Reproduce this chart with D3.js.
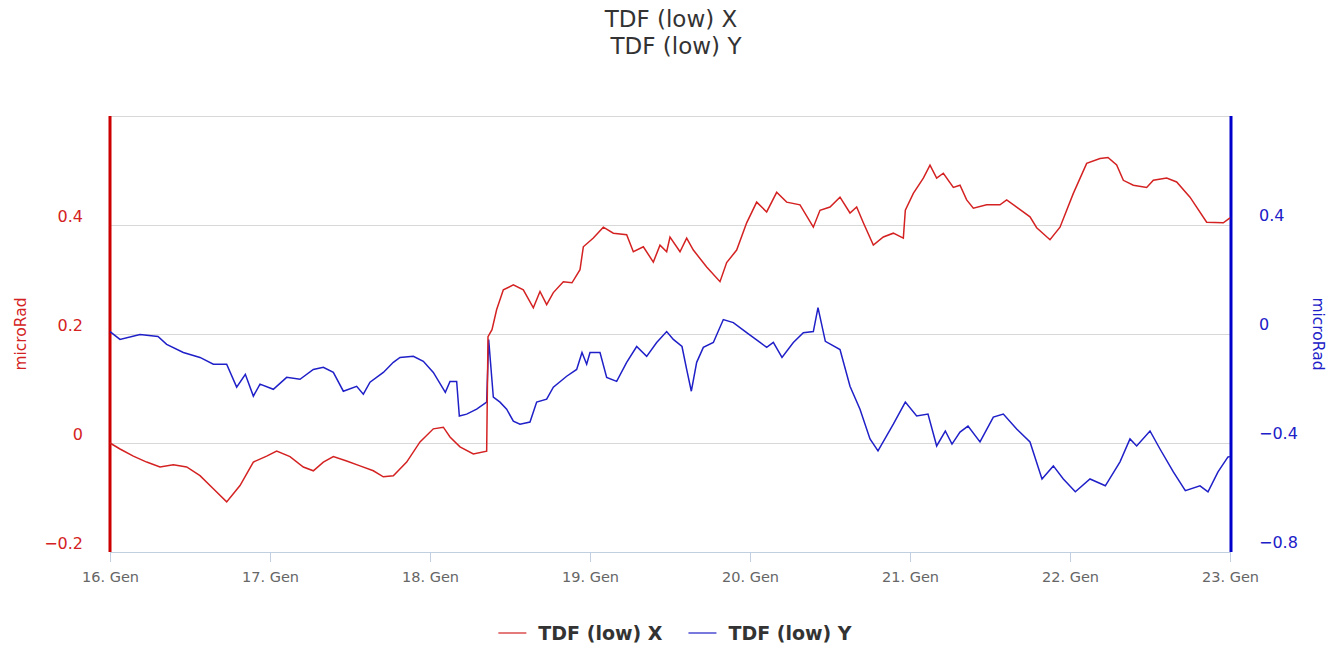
<!doctype html>
<html>
<head>
    <title> TDF (low) </title>
    <script src="https://d3js.org/d3.v7.min.js"></script>
    <style>
        body { margin: 0; background: #fff; }
        text { font-family: "DejaVu Sans", Verdana, sans-serif; }
    </style>
</head>
<body>
<div id="chart"></div>
<script>

// Data (hours from 16 Jan 00:00)

const startDate = new Date(2015, 0, 16);

const hoursX = [0, 1.5, 3.5, 5.5, 7.5, 9.5, 11.5, 13.5, 15.5, 17.5, 19.5, 21.5, 23.5, 25, 27, 29, 30.5, 32, 33.5, 35.5,
    37.5, 39.5, 41, 42.5, 44.5, 46.5, 48.5, 50, 51, 52.5, 54.5, 56.5, 56.7, 57.3, 58, 59, 60.5, 62, 63.5, 64.5,
    65.5, 66.5, 68, 69.3, 70.5, 71, 72.5, 74, 75.5, 77.5, 78.5, 80, 81.5, 82.5, 83.5, 84, 85.5, 86.5, 87.5, 89.5,
    91.5, 92.5, 94, 95.5, 97, 98.5, 100, 101.5, 103.5, 105.5, 106.5, 108, 109.5, 111, 112, 113, 114.5, 116, 117.5, 119,
    119.3, 120.5, 122, 123, 124, 125, 126.5, 127.5, 128.5, 129.5, 131.5, 133.5, 134.5, 136, 138, 139, 141, 142.5, 144.5, 146.5,
    148.5, 149.7, 151, 152, 153.5, 155.5, 156.5, 158.5, 160, 162, 164.5, 167, 168];
const valuesX = [0.0, -0.011, -0.024, -0.035, -0.044, -0.040, -0.044, -0.060, -0.084, -0.108, -0.078, -0.035, -0.024, -0.015, -0.025, -0.044, -0.051, -0.035, -0.025, -0.033,
    -0.042, -0.051, -0.062, -0.060, -0.035, 0.002, 0.026, 0.029, 0.011, -0.007, -0.020, -0.015, 0.195, 0.208, 0.245, 0.281, 0.290, 0.281, 0.248, 0.278,
    0.254, 0.276, 0.296, 0.294, 0.318, 0.360, 0.376, 0.396, 0.385, 0.382, 0.351, 0.360, 0.332, 0.363, 0.351, 0.378, 0.351, 0.376, 0.354, 0.323,
    0.296, 0.331, 0.354, 0.404, 0.442, 0.424, 0.460, 0.442, 0.437, 0.396, 0.427, 0.433, 0.451, 0.422, 0.433, 0.404, 0.363, 0.378, 0.385, 0.376,
    0.427, 0.458, 0.486, 0.510, 0.486, 0.495, 0.469, 0.473, 0.446, 0.431, 0.437, 0.437, 0.446, 0.433, 0.415, 0.395, 0.373, 0.396, 0.458, 0.513,
    0.522, 0.524, 0.510, 0.482, 0.473, 0.469, 0.482, 0.486, 0.479, 0.451, 0.405, 0.404, 0.413];

const hoursY = [0, 1.5, 4.5, 7.2, 8.5, 11, 13.5, 15.5, 17.5, 19, 20.3, 21.5, 22.5, 24.5, 26.5, 28.5, 30.5, 32, 33.5, 35,
    37, 38, 39, 41, 42.5, 43.5, 45.5, 47, 48.5, 50.3, 51, 52, 52.4, 53.5, 55, 56.5, 56.8, 57.5, 58.5, 59.5,
    60.5, 61.5, 63, 64, 65.5, 66.5, 68.5, 70, 70.8, 71.5, 72, 73.5, 74.5, 76, 77.5, 79, 80.5, 82, 83.5, 84.5,
    85.8, 86.5, 87.2, 88, 89, 90.5, 92, 93.5, 95.5, 97.5, 98.5, 99.5, 100.8, 102.5, 104, 105.5, 106.2, 107.3, 109.5, 111,
    112.5, 114, 115.2, 117.5, 119.3, 121, 122.7, 124, 125.3, 126.3, 127.5, 128.7, 130.5, 132.5, 134, 136, 138, 139.8, 141.5, 143,
    144.8, 147, 149.3, 151.5, 153, 154, 156, 157.5, 159.5, 161.3, 163.5, 164.7, 166.2, 167.7, 168];
const valuesY = [0.009, -0.020, -0.002, -0.009, -0.038, -0.068, -0.086, -0.111, -0.111, -0.195, -0.148, -0.228, -0.184, -0.203, -0.159, -0.166, -0.130, -0.122, -0.141, -0.210,
    -0.192, -0.221, -0.177, -0.141, -0.104, -0.086, -0.082, -0.100, -0.141, -0.214, -0.174, -0.174, -0.301, -0.294, -0.276, -0.250, -0.020, -0.232, -0.250, -0.276,
    -0.320, -0.331, -0.323, -0.250, -0.239, -0.195, -0.155, -0.130, -0.068, -0.111, -0.068, -0.068, -0.159, -0.174, -0.104, -0.046, -0.082, -0.031, 0.009, -0.020,
    -0.046, -0.130, -0.210, -0.104, -0.049, -0.031, 0.053, 0.042, 0.005, -0.031, -0.049, -0.031, -0.086, -0.031, 0.005, 0.009, 0.097, -0.027, -0.057, -0.192,
    -0.276, -0.385, -0.429, -0.331, -0.250, -0.301, -0.294, -0.411, -0.356, -0.404, -0.360, -0.338, -0.396, -0.305, -0.294, -0.349, -0.396, -0.532, -0.484, -0.532,
    -0.579, -0.532, -0.557, -0.469, -0.385, -0.411, -0.356, -0.422, -0.506, -0.575, -0.557, -0.579, -0.506, -0.451, -0.45];

const seriesNames = ["TDF (low) X", "TDF (low) Y"];
const leftTicks = [-0.2, 0, 0.2, 0.4];
const rightTicks = [-0.8, -0.4, 0, 0.4];
const axisTitle = "microRad";

// Setup

const width = 1331, height = 648;
const plotLeft = 110, plotRight = 1230, plotTop = 116, plotBottom = 552;
const redColor = "#d42222", blueColor = "#2020c8";

var svg = d3.select("#chart").append("svg")
    .attr("width", width)
    .attr("height", height);

function toDate(h) { return new Date(startDate.getTime() + h * 3600000); }

var x = d3.scaleTime().domain([startDate, toDate(168)]).range([plotLeft, plotRight]);
var yL = d3.scaleLinear().domain([-0.2, 0.6]).range([plotBottom, plotTop]);
var yR = d3.scaleLinear().domain([-0.8, 0.8]).range([plotBottom, plotTop]);

var itLocale = d3.timeFormatLocale({
    dateTime: "%A %e %B %Y, %X", date: "%d/%m/%Y", time: "%H:%M:%S",
    periods: ["AM", "PM"],
    days: ["Domenica", "Lunedì", "Martedì", "Mercoledì", "Giovedì", "Venerdì", "Sabato"],
    shortDays: ["Dom", "Lun", "Mar", "Mer", "Gio", "Ven", "Sab"],
    months: ["Gennaio", "Febbraio", "Marzo", "Aprile", "Maggio", "Giugno", "Luglio", "Agosto", "Settembre", "Ottobre", "Novembre", "Dicembre"],
    shortMonths: ["Gen", "Feb", "Mar", "Apr", "Mag", "Giu", "Lug", "Ago", "Set", "Ott", "Nov", "Dic"]
});

// Gridlines
svg.append("g")
    .attr("transform", "translate(" + plotLeft + ",0)")
    .call(d3.axisLeft(yL).tickValues([-0.2, 0, 0.2, 0.4, 0.6]).tickSize(-(plotRight - plotLeft)).tickFormat(""))
    .call(g => g.select(".domain").remove())
    .call(g => g.selectAll("line").attr("stroke", "#d8d8d8"));

// X axis
svg.append("g")
    .attr("transform", "translate(0," + plotBottom + ")")
    .call(d3.axisBottom(x).ticks(d3.timeDay.every(1)).tickSize(10).tickPadding(10).tickFormat(itLocale.format("%-d. %b")))
    .call(g => g.select(".domain").attr("stroke", "#c0d0e0"))
    .call(g => g.selectAll("line").attr("stroke", "#c0d0e0"))
    .call(g => g.selectAll("text").attr("fill", "#666").style("font-size", "14.5px")
        .style("font-family", "DejaVu Sans"));

// Left axis
svg.append("g")
    .attr("transform", "translate(" + plotLeft + ",0)")
    .call(d3.axisLeft(yL).tickValues(leftTicks).tickSize(0).tickPadding(27).tickFormat(d3.format("")))
    .call(g => g.select(".domain").remove())
    .call(g => g.selectAll("text").attr("fill", redColor).style("font-size", "16px")
        .style("font-family", "DejaVu Sans").attr("dy", "-4px"));

// Right axis
svg.append("g")
    .attr("transform", "translate(" + plotRight + ",0)")
    .call(d3.axisRight(yR).tickValues(rightTicks).tickSize(0).tickPadding(29).tickFormat(d3.format("")))
    .call(g => g.select(".domain").remove())
    .call(g => g.selectAll("text").attr("fill", blueColor).style("font-size", "16px")
        .style("font-family", "DejaVu Sans").attr("dy", "-5px"));

// Axis lines
svg.append("line").attr("x1", plotLeft).attr("x2", plotLeft).attr("y1", plotTop).attr("y2", plotBottom)
    .attr("stroke", "#cc0000").attr("stroke-width", 3);
svg.append("line").attr("x1", plotRight + 1).attr("x2", plotRight + 1).attr("y1", plotTop).attr("y2", plotBottom)
    .attr("stroke", "#0000cc").attr("stroke-width", 3);

// Axis titles
svg.append("text")
    .attr("transform", "translate(26," + ((plotTop + plotBottom) / 2) + ") rotate(-90)")
    .attr("text-anchor", "middle")
    .attr("fill", redColor)
    .style("font-size", "15.5px")
    .text(axisTitle);
svg.append("text")
    .attr("transform", "translate(1313," + ((plotTop + plotBottom) / 2) + ") rotate(90)")
    .attr("text-anchor", "middle")
    .attr("fill", blueColor)
    .style("font-size", "15.5px")
    .text(axisTitle);

// Lines
var lineX = d3.line().x((d, i) => x(toDate(hoursX[i]))).y(d => yL(d));
var lineY = d3.line().x((d, i) => x(toDate(hoursY[i]))).y(d => yR(d));

svg.append("path").datum(valuesY)
    .attr("d", lineY).attr("fill", "none").attr("stroke", blueColor).attr("stroke-width", 1.5);
svg.append("path").datum(valuesX)
    .attr("d", lineX).attr("fill", "none").attr("stroke", redColor).attr("stroke-width", 1.5);

// Title
svg.append("text").attr("x", 671).attr("y", 27).attr("text-anchor", "middle")
    .attr("fill", "#333").style("font-size", "23px").text(seriesNames[0]);
svg.append("text").attr("x", 676).attr("y", 54).attr("text-anchor", "middle")
    .attr("fill", "#333").style("font-size", "23px").text(seriesNames[1]);

// Legend (centered)
var legend = svg.append("g").attr("transform", "translate(0,633)");
var legendColors = [redColor, blueColor];
var cursor = 0;
var items = seriesNames.map(function(name, i){
    var g = legend.append("g");
    g.append("line").attr("x1", 0).attr("x2", 28).attr("y1", 0).attr("y2", 0)
        .attr("stroke", legendColors[i]).attr("stroke-width", 2).attr("opacity", 0.6);
    var t = g.append("text").attr("x", 40).attr("y", 6.5)
        .attr("fill", "#333").style("font-size", "19px").style("font-weight", "bold")
        .text(name);
    var w = 40 + t.node().getComputedTextLength();
    g.attr("transform", "translate(" + cursor + ",0)");
    cursor += w + 26;
    return g;
});
var legendWidth = cursor - 26;
legend.attr("transform", "translate(" + (675 - legendWidth / 2) + ",633)");

</script>
</body>
</html>
